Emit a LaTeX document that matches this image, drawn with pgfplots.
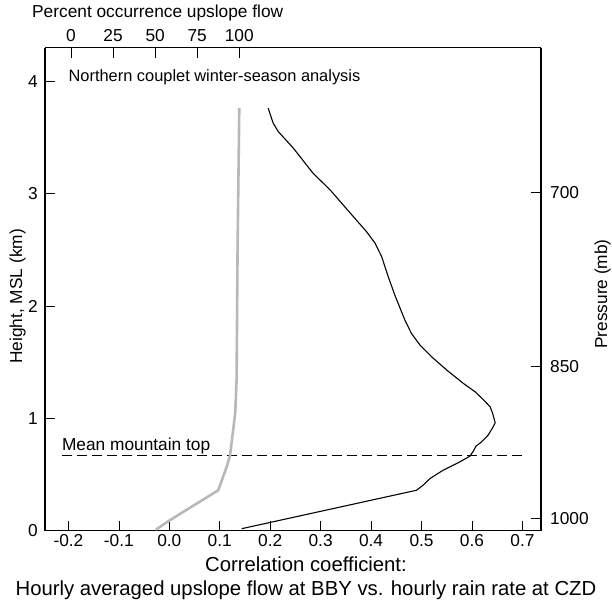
\documentclass[border=0pt]{standalone}
\usepackage{pgfplots}
\pgfplotsset{compat=1.18}
\usepackage{fontspec}
\setmainfont{Liberation Sans}
\newcommand{\figfont}{\fontsize{17.3bp}{20bp}\selectfont}
\newcommand{\notefont}{\fontsize{16.4bp}{19bp}\selectfont}
\newcommand{\titlefont}{\fontsize{20.3bp}{24bp}\selectfont}
\begin{document}
\figfont
\begin{tikzpicture}
\pgfplotsset{
  profile/.style={
    scale only axis, width=496bp, height=483bp,
    ymin=0, ymax=4.3,
    tick align=inside, major tick length=10bp,
    axis line style={line width=1.1pt},
    every tick/.style={black, line width=0.6pt},
    /pgf/number format/assume math mode=true,
    tick label style={font=\figfont, inner sep=0pt},
  }
}
% Correlation coefficient vs. height (bottom and left axes)
\begin{axis}[profile,
  xmin=-0.2464, xmax=0.7368,
  axis x line*=bottom, axis y line*=left,
  xtick={-0.2,-0.1,0,0.1,0.2,0.3,0.4,0.5,0.6,0.7},
  xticklabels={-0.2,-0.1,0.0,0.1,0.2,0.3,0.4,0.5,0.6,0.7},
  ytick={0,1,2,3,4},
  xticklabel style={anchor=base, yshift=-16bp},
  yticklabel style={anchor=east, xshift=-7bp},
  clip=false,
]
\coordinate (sw) at (rel axis cs:0,0);
\coordinate (ne) at (rel axis cs:1,1);
\coordinate (leftmid) at (rel axis cs:0,0.485);
\coordinate (rightmid) at (rel axis cs:1,0.49);
\coordinate (botmid) at (rel axis cs:0.5,0);
% correlation profile
\addplot[black, line width=1.1pt] coordinates {
  (0.1435,0.018) (0.490,0.360) (0.503,0.405) (0.517,0.465) (0.543,0.539)
  (0.576,0.613) (0.596,0.664) (0.603,0.711) (0.608,0.753) (0.619,0.791)
  (0.632,0.851) (0.642,0.925) (0.646,0.960) (0.641,1.044) (0.636,1.103)
  (0.622,1.169) (0.606,1.237) (0.583,1.311) (0.550,1.430) (0.520,1.548)
  (0.497,1.652) (0.480,1.756) (0.467,1.875) (0.447,2.098) (0.434,2.261)
  (0.421,2.439) (0.408,2.559) (0.391,2.662) (0.359,2.826) (0.319,3.033)
  (0.285,3.182) (0.246,3.405) (0.216,3.553) (0.206,3.628) (0.196,3.761)
};
% mean mountain top
\addplot[black, line width=0.8pt, dash pattern=on 10.5bp off 4.5bp]
  coordinates {(-0.213,0.67) (0.705,0.67)};
\node[anchor=base west, inner sep=0pt] at (axis cs:-0.213,0.717) {Mean mountain top};
\node[anchor=base west, inner sep=0pt, font=\notefont] at (axis cs:-0.2,4.0) {Northern couplet winter-season analysis};
\end{axis}
% Percent occurrence of upslope flow (top axis) and pressure (right axis)
\begin{axis}[profile,
  xmin=-15.45, xmax=279.3,
  axis x line*=top, axis y line*=right,
  xtick={0,25,50,75,100},
  ytick={0.11,1.46,3.01},
  yticklabels={1000,850,700},
  xticklabel style={anchor=base, yshift=6bp},
  yticklabel style={anchor=west, xshift=9bp},
  clip=false,
]
\addplot[black!28, line width=2.6bp] coordinates {
  (50.5,0.01) (58.8,0.094) (87.5,0.36) (92.5,0.568) (94.5,0.67)
  (96.4,0.90) (97.6,1.05) (98.4,1.34) (99.0,2.53) (100.0,3.761)
};
\end{axis}
% axis titles
\node[anchor=base west, inner sep=0pt] at ([shift={(-13bp,29.7bp)}]sw |- ne) {Percent occurrence upslope flow};
\node[anchor=base, rotate=90, inner sep=0pt] at ([xshift=-23bp]leftmid) {Height, MSL (km)};
\node[anchor=base, rotate=90, inner sep=0pt] at ([xshift=66bp]rightmid) {Pressure (mb)};
\node[anchor=base, inner sep=0pt, font=\titlefont] at ([shift={(13bp,-40.5bp)}]botmid) {Correlation coefficient:};
\node[anchor=base, inner sep=0pt, font=\titlefont] at ([shift={(13bp,-64.5bp)}]botmid) {Hourly averaged upslope flow at BBY vs. hourly rain rate at CZD};
\pgfresetboundingbox
\path ([shift={(-45bp,-70.5bp)}]sw) rectangle ([shift={(71bp,47.7bp)}]ne);
\end{tikzpicture}
\end{document}
